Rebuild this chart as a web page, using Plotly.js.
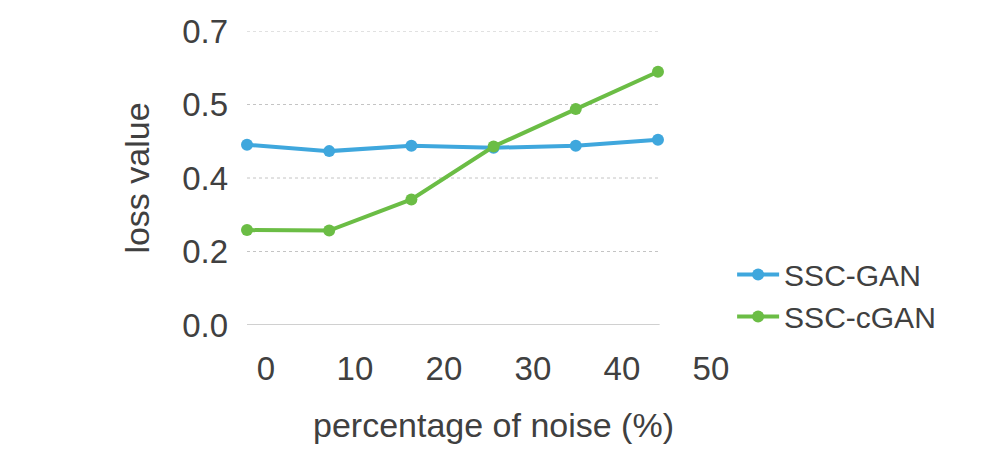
<!DOCTYPE html>
<html>
<head>
<meta charset="utf-8">
<script src="https://cdn.plot.ly/plotly-3.0.1.min.js"></script>
<style>
  html, body { margin: 0; padding: 0; background: #fff; }
  #plot { width: 1001px; height: 461px; }
</style>
</head>
<body>
<div id="plot"></div>
<script>
const noise = [0, 10, 20, 30, 40, 50];
const sscGan = [0.429, 0.414, 0.427, 0.422, 0.427, 0.441];
const sscCgan = [0.226, 0.225, 0.299, 0.425, 0.514, 0.603];
const yTickVals = [0, 0.175, 0.35, 0.525, 0.7];
const yTickText = ["0.0", "0.2", "0.4", "0.5", "0.7"];
const xTickText = ["0", "10", "20", "30", "40", "50"];

const FONT = "Liberation Sans, Arial, sans-serif";
const TEXT = "#404040";

const line = (name, y, color) => ({
  x: noise,
  y: y,
  name: name,
  type: "scatter",
  mode: "lines+markers",
  cliponaxis: false,
  line: { color: color, width: 4 },
  marker: { color: color, size: 12 },
});

const traces = [
  line("SSC-GAN", sscGan, "#3fa7dd"),
  line("SSC-cGAN", sscCgan, "#6bbd45"),
  // empty trace so the label axis gets drawn
  { x: [], y: [], xaxis: "x2", yaxis: "y", showlegend: false, hoverinfo: "skip", type: "scatter" },
];

// horizontal grid only under the points, like Keynote does it
const grid = yTickVals.map((v) => ({
  type: "line",
  xref: "x",
  yref: "y",
  x0: 0,
  x1: v === 0 ? 50.2 : 50,
  y0: v,
  y1: v,
  layer: "below",
  line: v === 0 ? { color: "#c0c0c0", width: 1.5 } : { color: "#c4c4c4", width: 1, dash: "dot" },
}));

const layout = {
  width: 1001,
  height: 461,
  margin: { l: 247, r: 261, t: 31, b: 136 },
  paper_bgcolor: "#fff",
  plot_bgcolor: "#fff",
  font: { family: FONT, color: TEXT, size: 30 },
  showlegend: true,
  shapes: grid,
  // data axis: 0..50 sits between 247px and 658px
  xaxis: {
    range: [0, 59.98],
    showgrid: false,
    zeroline: false,
    showline: false,
    showticklabels: false,
    ticks: "",
    fixedrange: true,
  },
  // label axis, the category labels are spread wider than the points
  xaxis2: {
    overlaying: "x",
    side: "bottom",
    anchor: "y",
    range: [-2.13, 53.26],
    tickvals: noise,
    ticktext: xTickText,
    showgrid: false,
    zeroline: false,
    showline: false,
    ticks: "",
    ticklabelstandoff: 21,
    tickfont: { size: 33, color: TEXT },
    title: { text: "percentage of noise (%)", font: { size: 34, color: TEXT }, standoff: 27 },
    fixedrange: true,
  },
  yaxis: {
    range: [0, 0.7],
    tickvals: yTickVals,
    ticktext: yTickText,
    showgrid: false,
    zeroline: false,
    showline: false,
    ticks: "",
    ticklabelstandoff: 18,
    tickfont: { size: 33, color: TEXT },
    title: { text: "loss value", font: { size: 34, color: TEXT }, standoff: 22 },
    fixedrange: true,
  },
  legend: {
    x: 0.984,
    xanchor: "left",
    y: 0.1,
    yanchor: "middle",
    font: { size: 30, color: TEXT },
    bgcolor: "rgba(0,0,0,0)",
    itemwidth: 42,
  },
};

Plotly.newPlot(document.querySelector("#plot"), traces, layout, { displayModeBar: false, staticPlot: true });
</script>
</body>
</html>
